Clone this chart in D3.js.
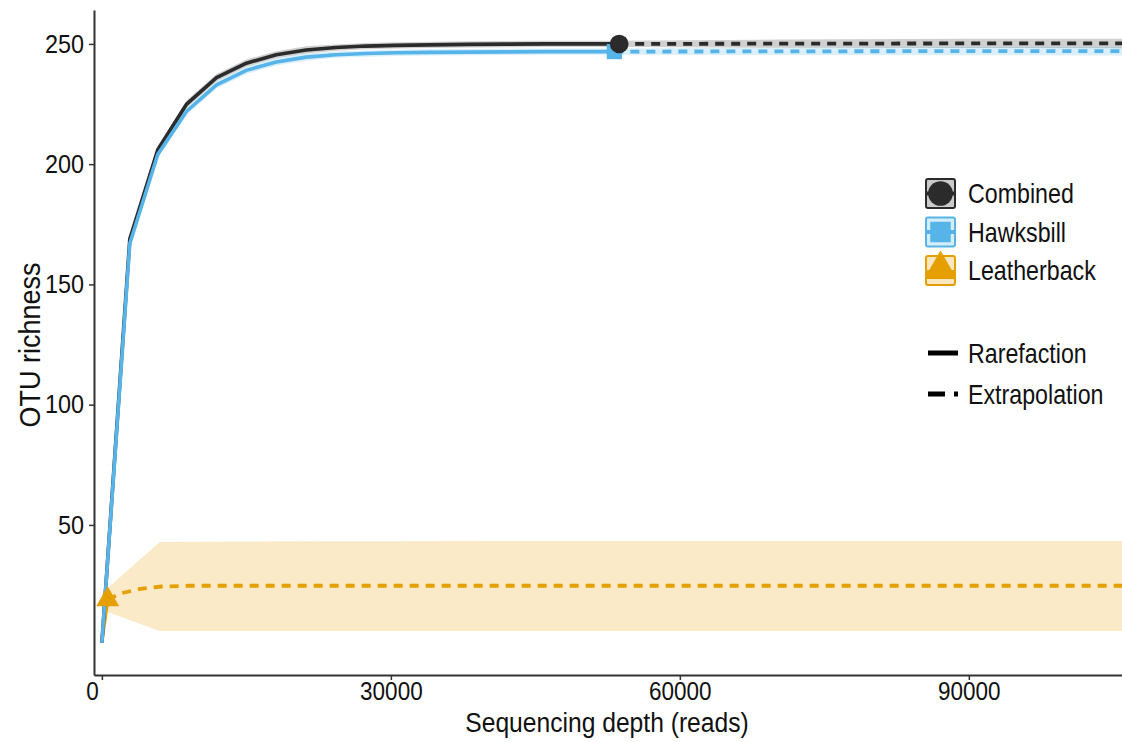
<!DOCTYPE html>
<html>
<head>
<meta charset="utf-8">
<script src="https://cdn.jsdelivr.net/npm/d3@7"></script>
<style>
  html, body { margin: 0; padding: 0; background: #fff; }
  svg text { font-family: "Liberation Sans", Arial, sans-serif; fill: #111; }
</style>
</head>
<body>
<svg id="chart" width="1122" height="742"></svg>
<script>
// ---- data: OTU rarefaction / extrapolation curves ----
const xTicks = [0, 30000, 60000, 90000];
const yTicks = [50, 100, 150, 200, 250];

// Combined samples
const combinedRareDepth = [1, 2900, 5800, 8800, 11900, 15000, 18100, 21200, 24300, 27400, 30500, 34000, 38000, 42000, 46000, 50000, 53700];
const combinedRareRich  = [1, 169, 206, 225, 236, 242, 245.5, 247.5, 248.5, 249.1, 249.4, 249.6, 249.8, 249.9, 250, 250, 250];
const combinedRareLo    = [0.5, 167.5, 204.5, 223.5, 234.5, 240.5, 244, 246, 247.2, 247.8, 248.1, 248.3, 248.5, 248.6, 248.7, 248.7, 248.7];
const combinedRareHi    = [1.5, 170.5, 207.5, 226.5, 237.5, 243.5, 247, 249, 249.8, 250.4, 250.7, 250.9, 251.1, 251.2, 251.3, 251.3, 251.3];
const combinedExtDepth  = [53700, 70000, 90000, 107400];
const combinedExtRich   = [250, 250.1, 250.2, 250.2];
const combinedExtLo     = [248.5, 248.4, 248.3, 248.2];
const combinedExtHi     = [251.5, 251.8, 252.1, 252.2];

// Hawksbill samples
const hawksbillRareDepth = [1, 2900, 5800, 8800, 11900, 15000, 18100, 21200, 24300, 27400, 30500, 34000, 38000, 42000, 46000, 50000, 53200];
const hawksbillRareRich  = [1, 167, 204, 222, 233, 239, 242.5, 244.5, 245.5, 246, 246.3, 246.5, 246.6, 246.7, 246.8, 246.8, 246.8];
const hawksbillRareLo    = [0.5, 165.5, 202.5, 220.5, 231.5, 237.5, 241, 243, 244.2, 244.7, 245, 245.2, 245.3, 245.4, 245.5, 245.5, 245.5];
const hawksbillRareHi    = [1.5, 168.5, 205.5, 223.5, 234.5, 240.5, 244, 246, 246.8, 247.3, 247.6, 247.8, 247.9, 248, 248.1, 248.1, 248.1];
const hawksbillExtDepth  = [53200, 70000, 90000, 106400];
const hawksbillExtRich   = [246.8, 246.9, 247, 247];
const hawksbillExtLo     = [245.5, 245.4, 245.3, 245.2];
const hawksbillExtHi     = [248.1, 248.4, 248.7, 248.8];

// Leatherback samples
const leatherRareDepth = [1, 600];
const leatherRareRich  = [2, 19];
const leatherExtDepth  = [600, 2000, 4000, 6200, 9000, 20000, 50000, 107000];
const leatherExtRich   = [19, 21.6, 23.4, 24.4, 24.7, 24.7, 24.7, 24.7];
const leatherBandDepth = [1, 600, 6000, 20000, 50000, 107000];
const leatherBandLo    = [14.8, 13.8, 5.9, 5.9, 5.9, 5.9];
const leatherBandHi    = [21.3, 23.8, 42.9, 43.2, 43.3, 43.3];

const seriesNames  = ["Combined", "Hawksbill", "Leatherback"];
const seriesColors = ["#2b2b2b", "#56B4E9", "#E69F00"];
const methodNames  = ["Rarefaction", "Extrapolation"];

// ---- layout ----
const svg = d3.select("#chart");
const panelLeft = 94, panelRight = 1122, panelTop = 10, panelBottom = 675;

const x = d3.scaleLinear().domain([-820, 105900]).range([panelLeft, panelRight]);
const y = d3.scaleLinear().domain([-12.4, 264.1]).range([panelBottom, panelTop]);

svg.append("defs").append("clipPath").attr("id", "panel")
  .append("rect").attr("x", panelLeft).attr("y", panelTop)
  .attr("width", panelRight - panelLeft).attr("height", panelBottom - panelTop);

const panel = svg.append("g").attr("clip-path", "url(#panel)");

const zip = (xs, ...cols) => xs.map((d, i) => [d, ...cols.map(c => c[i])]);
const line = d3.line().x(d => x(d[0])).y(d => y(d[1]));
const area = d3.area().x(d => x(d[0])).y0(d => y(d[1])).y1(d => y(d[2]));

const ribbonAlpha = 0.22;

// confidence ribbons
const ribbons = [
  { c: seriesColors[0], d: zip(combinedRareDepth.concat(combinedExtDepth.slice(1)), combinedRareLo.concat(combinedExtLo.slice(1)), combinedRareHi.concat(combinedExtHi.slice(1))) },
  { c: seriesColors[1], d: zip(hawksbillRareDepth.concat(hawksbillExtDepth.slice(1)), hawksbillRareLo.concat(hawksbillExtLo.slice(1)), hawksbillRareHi.concat(hawksbillExtHi.slice(1))) },
  { c: seriesColors[2], d: zip(leatherBandDepth, leatherBandLo, leatherBandHi) }
];
ribbons.forEach(r => panel.append("path").attr("d", area(r.d))
  .attr("fill", r.c).attr("fill-opacity", ribbonAlpha).attr("stroke", "none"));

// extrapolation (dashed) lines
const extLines = [
  { c: seriesColors[0], d: zip(combinedExtDepth, combinedExtRich) },
  { c: seriesColors[1], d: zip(hawksbillExtDepth, hawksbillExtRich) },
  { c: seriesColors[2], d: zip(leatherExtDepth, leatherExtRich) }
];
extLines.forEach(l => panel.append("path").attr("d", line(l.d))
  .attr("fill", "none").attr("stroke", l.c).attr("stroke-width", 3.8)
  .attr("stroke-dasharray", "9,7"));

// rarefaction (solid) lines
const rareLines = [
  { c: seriesColors[2], d: zip(leatherRareDepth, leatherRareRich) },
  { c: seriesColors[0], d: zip(combinedRareDepth, combinedRareRich) },
  { c: seriesColors[1], d: zip(hawksbillRareDepth, hawksbillRareRich) }
];
rareLines.forEach(l => panel.append("path").attr("d", line(l.d))
  .attr("fill", "none").attr("stroke", l.c).attr("stroke-width", 3.6)
  .attr("stroke-linejoin", "round"));

// reference-sample points
const last = a => a[a.length - 1];
const symCircle = d3.symbol().type(d3.symbolCircle).size(270);
const symSquare = d3.symbol().type(d3.symbolSquare).size(230);
const symTriangle = d3.symbol().type(d3.symbolTriangle).size(230);

svg.append("path").attr("d", symSquare())
  .attr("transform", `translate(${x(last(hawksbillRareDepth))},${y(last(hawksbillRareRich))})`)
  .attr("fill", seriesColors[1]);
svg.append("path").attr("d", symCircle())
  .attr("transform", `translate(${x(last(combinedRareDepth))},${y(last(combinedRareRich))})`)
  .attr("fill", seriesColors[0]);
svg.append("path").attr("d", symTriangle())
  .attr("transform", `translate(${x(last(leatherRareDepth))},${y(last(leatherRareRich))})`)
  .attr("fill", seriesColors[2]);

// ---- axes ----
const axisColor = "#333";
const xAxis = svg.append("g").attr("transform", `translate(0,${panelBottom})`)
  .call(d3.axisBottom(x).tickValues(xTicks).tickFormat(d3.format("d")).tickSizeInner(5).tickSizeOuter(0));
const yAxis = svg.append("g").attr("transform", `translate(${panelLeft},0)`)
  .call(d3.axisLeft(y).tickValues(yTicks).tickFormat(d3.format("d")).tickSizeInner(5).tickSizeOuter(0));

// condensed look for the tick labels
const cond = 0.9;
[xAxis, yAxis].forEach(g => {
  g.select(".domain").attr("stroke", axisColor).attr("stroke-width", 2);
  g.selectAll(".tick line").attr("stroke", axisColor).attr("stroke-width", 1.5);
  g.selectAll(".tick text").attr("font-size", 26).attr("fill", "#111")
    .style("font-family", '"Liberation Sans", Arial, sans-serif')
    .attr("transform", `scale(${cond},1)`);
});
xAxis.selectAll(".tick text").attr("font-size", 25).attr("dy", "0.9em").attr("y", 3);
xAxis.selectAll(".tick").filter(d => d === 0).select("text").attr("x", -10 / cond);
yAxis.selectAll(".tick text").attr("x", -10 / cond);

// axis titles
svg.append("text").attr("transform", "translate(607,732) scale(0.88,1)").attr("text-anchor", "middle")
  .attr("font-size", 28).text("Sequencing depth (reads)");
svg.append("text").attr("transform", "translate(40,345) rotate(-90) scale(0.9,1)").attr("text-anchor", "middle")
  .attr("font-size", 30).text("OTU richness");

// ---- legend ----
const lg = svg.append("g").attr("transform", "translate(925,178)");
const keySize = 31, keyGap = 38.5;
const keySymbols = [symCircle, symSquare, symTriangle];
seriesNames.forEach((name, i) => {
  const g = lg.append("g").attr("transform", `translate(0,${i * keyGap})`);
  const c = seriesColors[i];
  g.append("rect").attr("x", 1).attr("y", 1).attr("width", keySize - 2).attr("height", keySize - 2)
    .attr("fill", c).attr("fill-opacity", 0.25).attr("stroke", c).attr("stroke-width", 2).attr("rx", 2);
  g.append("line").attr("x1", 2).attr("x2", keySize - 2)
    .attr("y1", keySize / 2 + (i === 2 ? 4 : 0)).attr("y2", keySize / 2 + (i === 2 ? 4 : 0))
    .attr("stroke", c).attr("stroke-width", i === 2 ? 9 : 4);
  g.append("path").attr("d", keySymbols[i].size(i === 0 ? 480 : 420)())
    .attr("transform", `translate(${keySize / 2},${keySize / 2 - (i === 2 ? 2 : 0)})`).attr("fill", c);
  g.append("text").attr("transform", `translate(43,${keySize / 2 + 9.5}) scale(0.86,1)`)
    .attr("font-size", 27).text(name);
});

const lm = svg.append("g").attr("transform", "translate(925,353)");
methodNames.forEach((name, i) => {
  const g = lm.append("g").attr("transform", `translate(0,${i * 41})`);
  g.append("line").attr("x1", 3).attr("x2", 33).attr("y1", 0).attr("y2", 0)
    .attr("stroke", "#000").attr("stroke-width", 5)
    .attr("stroke-dasharray", i === 1 ? "17,9,4,30" : null);
  g.append("text").attr("transform", `translate(43,9.5) scale(0.86,1)`)
    .attr("font-size", 27).text(name);
});
</script>
</body>
</html>
